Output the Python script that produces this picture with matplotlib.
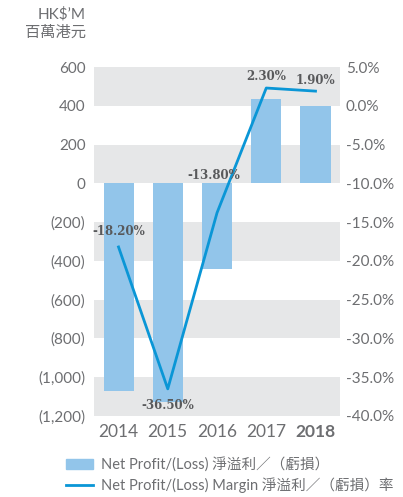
import matplotlib
matplotlib.use("Agg")
import matplotlib.pyplot as plt
from matplotlib.patches import Patch
from matplotlib.lines import Line2D

years = ["2014", "2015", "2016", "2017", "2018"]
net_profit = [-1070, -1130, -440, 435, 400]
margin = [-18.2, -36.5, -13.8, 2.3, 1.9]
margin_labels = ["-18.20%", "-36.50%", "-13.80%", "2.30%", "1.90%"]
left_ticks = [600, 400, 200, 0, -200, -400, -600, -800, -1000, -1200]
left_tick_labels = ["600", "400", "200", "0", "(200)", "(400)", "(600)", "(800)", "(1,000)", "(1,200)"]
right_ticks = [5, 0, -5, -10, -15, -20, -25, -30, -35, -40]

BAR = "#92c5ea"
LINE = "#0a96d6"
BAND = "#e6e7e8"
TXT = "#6d6e71"
LAB = "#58595b"

plt.rcParams['font.family'] = ['Lato', 'Noto Sans CJK TC', 'DejaVu Sans']

fig = plt.figure(figsize=(4.03, 4.97), dpi=100)
ax = fig.add_axes([0.233, 0.163, 0.611, 0.702])
ax2 = ax.twinx()

# grey bands behind everything
for lo in [400, 0, -400, -800, -1200]:
    ax.axhspan(lo, lo + 200, color=BAND, lw=0, zorder=0)

x = list(range(len(years)))
ax.bar(x, net_profit, width=0.61, color=BAR, zorder=2)
ax.set_xlim(-0.5, 4.5)
ax.set_ylim(-1200, 600)
ax.set_yticks(left_ticks)
ax.set_yticklabels(left_tick_labels)
ax.set_xticks(x)
ax.set_xticklabels(years)
ax.get_xticklabels()[-1].set_fontweight("bold")

ax2.plot(x, margin, color=LINE, lw=2, zorder=3)
ax2.set_ylim(-40, 5)
ax2.set_yticks(right_ticks)
ax2.set_yticklabels(["%.1f%%" % v for v in right_ticks])

for a in (ax, ax2):
    for s in a.spines.values():
        s.set_visible(False)
    a.tick_params(length=0, colors=TXT, labelsize=11)
ax.tick_params(axis="x", labelsize=12.5, pad=6)
ax.tick_params(axis="y", pad=6)
ax2.tick_params(axis="y", pad=4)

# data labels
offsets = [(0, 11), (0, -12), (-2, 27), (0, 8), (0, 8)]
for xi, v, t, (dx, dy) in zip(x, margin, margin_labels, offsets):
    ax2.annotate(t, (xi, v), xytext=(dx, dy), textcoords="offset points",
                 ha="center", va="center", fontsize=8.5, fontweight="bold",
                 color=LAB, family="DejaVu Serif", zorder=5)

fig.text(0.213, 0.972, "HK$\u2019M", ha="right", va="center", fontsize=11, color=TXT)
fig.text(0.213, 0.934, "百萬港元", ha="right", va="center", fontsize=11, color=TXT)

handles = [Patch(color=BAR), Line2D([0], [0], color=LINE, lw=2)]
labels = ["Net Profit/(Loss) 淨溢利／（虧損）", "Net Profit/(Loss) Margin 淨溢利／（虧損）率"]
fig.legend(handles, labels, loc="lower left", bbox_to_anchor=(0.13, -0.018), frameon=False,
           fontsize=10.5, labelcolor=TXT, handlelength=1.9, handletextpad=0.5, labelspacing=0.35)

fig.savefig("out.png", dpi=100)
